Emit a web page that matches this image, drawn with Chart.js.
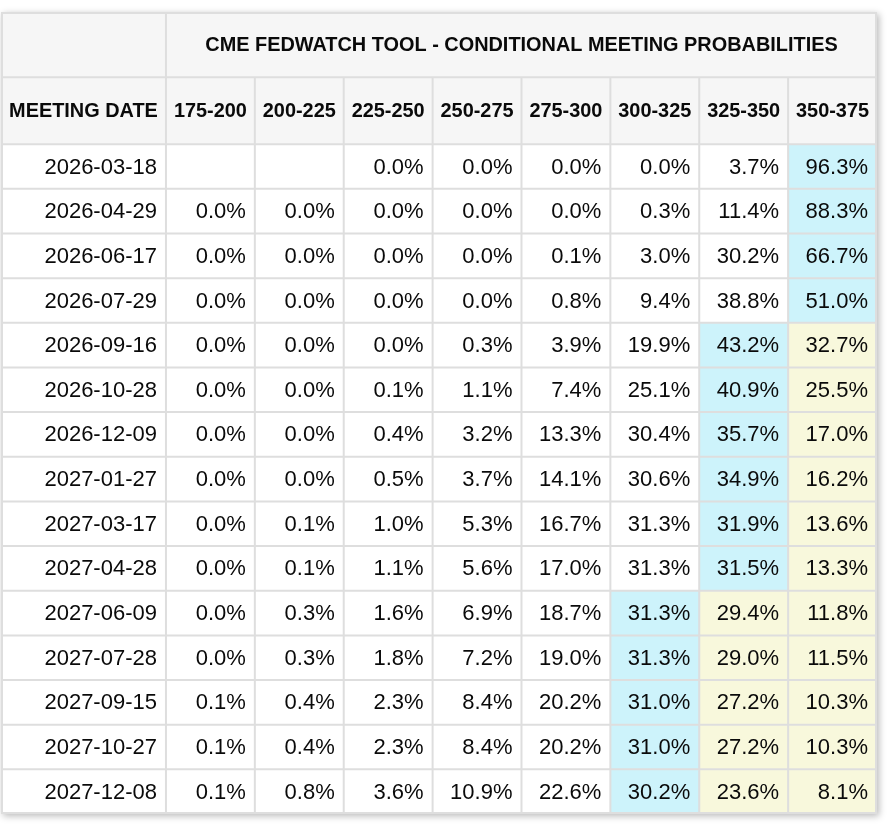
<!DOCTYPE html>
<html lang="en">
<head>
  <meta charset="UTF-8" />
  <title>CME FedWatch Tool - Conditional Meeting Probabilities</title>
  <script src="https://cdn.jsdelivr.net/npm/chart.js"></script>
  <style>
    body { margin: 0; background: #ffffff; }
    #wrap { width: 890px; height: 826px; }
  </style>
</head>
<body>
  <div id="wrap"><canvas id="fedChart" width="890" height="826"></canvas></div>

  <script>
    const title = 'CME FEDWATCH TOOL - CONDITIONAL MEETING PROBABILITIES';
    const dateHeader = 'MEETING DATE';
    const buckets = ['175-200', '200-225', '225-250', '250-275', '275-300', '300-325', '325-350', '350-375'];
    const meetingDates = [
      '2026-03-18', '2026-04-29', '2026-06-17', '2026-07-29', '2026-09-16',
      '2026-10-28', '2026-12-09', '2027-01-27', '2027-03-17', '2027-04-28',
      '2027-06-09', '2027-07-28', '2027-09-15', '2027-10-27', '2027-12-08'
    ];

    // probability (%) per rate bucket, one value per meeting date
    const p175_200 = [null, 0.0, 0.0, 0.0, 0.0, 0.0, 0.0, 0.0, 0.0, 0.0, 0.0, 0.0, 0.1, 0.1, 0.1];
    const p200_225 = [null, 0.0, 0.0, 0.0, 0.0, 0.0, 0.0, 0.0, 0.1, 0.1, 0.3, 0.3, 0.4, 0.4, 0.8];
    const p225_250 = [0.0, 0.0, 0.0, 0.0, 0.0, 0.1, 0.4, 0.5, 1.0, 1.1, 1.6, 1.8, 2.3, 2.3, 3.6];
    const p250_275 = [0.0, 0.0, 0.0, 0.0, 0.3, 1.1, 3.2, 3.7, 5.3, 5.6, 6.9, 7.2, 8.4, 8.4, 10.9];
    const p275_300 = [0.0, 0.0, 0.1, 0.8, 3.9, 7.4, 13.3, 14.1, 16.7, 17.0, 18.7, 19.0, 20.2, 20.2, 22.6];
    const p300_325 = [0.0, 0.3, 3.0, 9.4, 19.9, 25.1, 30.4, 30.6, 31.3, 31.3, 31.3, 31.3, 31.0, 31.0, 30.2];
    const p325_350 = [3.7, 11.4, 30.2, 38.8, 43.2, 40.9, 35.7, 34.9, 31.9, 31.5, 29.4, 29.0, 27.2, 27.2, 23.6];
    const p350_375 = [96.3, 88.3, 66.7, 51.0, 32.7, 25.5, 17.0, 16.2, 13.6, 13.3, 11.8, 11.5, 10.3, 10.3, 8.1];

    const series = [p175_200, p200_225, p225_250, p250_275, p275_300, p300_325, p325_350, p350_375];

    // layout in axis units: one bucket column = 1 on x, one meeting row = 1 on y
    const DATE_COL = 1.856;
    const HEAD1 = 1.46;
    const HEAD2 = 1.5;
    const X_MAX = DATE_COL + buckets.length;
    const Y_MAX = HEAD1 + HEAD2 + meetingDates.length;

    const FONT = '"Liberation Sans", Arial, Helvetica, sans-serif';
    const GRID = '#dedede';
    const HEAD_BG = '#f6f6f6';
    const MAX_BG = '#cdf3fb';
    const ABOVE_BG = '#f8f8dc';

    function cellColor(row, col) {
      let best = 0;
      series.forEach((s, c) => { if (s[row] !== null && s[row] > series[best][row]) best = c; });
      if (col === best) return MAX_BG;
      if (col > best) return ABOVE_BG;
      return '#ffffff';
    }

    const tablePlugin = {
      id: 'tablePlugin',
      afterDraw(chart) {
        const ctx = chart.ctx;
        const xs = chart.scales.x, ys = chart.scales.y;
        const px = v => xs.getPixelForValue(v);
        const py = v => ys.getPixelForValue(v);
        const L = px(0), R = px(X_MAX), T = py(0), B = py(Y_MAX);
        const rowTop = i => HEAD1 + HEAD2 + i;
        const colLeft = c => DATE_COL + c;

        ctx.save();
        // table body with soft shadow
        ctx.shadowColor = 'rgba(0,0,0,0.28)';
        ctx.shadowBlur = 7;
        ctx.shadowOffsetX = 2;
        ctx.shadowOffsetY = 2;
        ctx.fillStyle = '#ffffff';
        ctx.fillRect(L, T, R - L, B - T);
        ctx.restore();

        ctx.save();
        // header backgrounds
        ctx.fillStyle = HEAD_BG;
        ctx.fillRect(L, T, R - L, py(HEAD1 + HEAD2) - T);

        // data cell backgrounds
        meetingDates.forEach((d, i) => {
          series.forEach((s, c) => {
            ctx.fillStyle = cellColor(i, c);
            ctx.fillRect(px(colLeft(c)), py(rowTop(i)), px(colLeft(c + 1)) - px(colLeft(c)), py(rowTop(i + 1)) - py(rowTop(i)));
          });
        });

        // grid lines
        ctx.strokeStyle = GRID;
        ctx.lineWidth = 2;
        ctx.beginPath();
        const hLines = [HEAD1, HEAD1 + HEAD2];
        meetingDates.forEach((d, i) => { if (i > 0) hLines.push(rowTop(i)); });
        hLines.forEach(v => { ctx.moveTo(L, py(v)); ctx.lineTo(R, py(v)); });
        ctx.moveTo(px(DATE_COL), T); ctx.lineTo(px(DATE_COL), B);
        for (let c = 1; c < buckets.length; c++) {
          ctx.moveTo(px(colLeft(c)), py(HEAD1)); ctx.lineTo(px(colLeft(c)), B);
        }
        ctx.stroke();
        ctx.strokeRect(L + 1, T + 1, R - L - 2, B - T - 2);

        // header text
        ctx.fillStyle = '#0a0a0a';
        ctx.textBaseline = 'middle';
        ctx.textAlign = 'center';
        ctx.font = 'bold 19.9px ' + FONT;
        ctx.fillText(title, (px(DATE_COL) + R) / 2, py(HEAD1 / 2) + 1);
        const h2 = py(HEAD1 + HEAD2 / 2) + 1;
        ctx.fillText(dateHeader, (L + px(DATE_COL)) / 2, h2);
        buckets.forEach((b, c) => {
          ctx.fillText(b, (px(colLeft(c)) + px(colLeft(c + 1))) / 2, h2);
        });

        // body text
        ctx.font = '22px ' + FONT;
        ctx.textAlign = 'right';
        meetingDates.forEach((d, i) => {
          const yMid = py(rowTop(i) + 0.5) + 1;
          ctx.fillText(d, px(DATE_COL) - 9, yMid);
          series.forEach((s, c) => {
            if (s[i] === null) return;
            ctx.fillText(s[i].toFixed(1) + '%', px(colLeft(c + 1)) - 9, yMid);
          });
        });
        ctx.restore();
      }
    };

    new Chart(document.getElementById('fedChart').getContext('2d'), {
      type: 'scatter',
      data: { datasets: [] },
      options: {
        responsive: false,
        animation: false,
        layout: { padding: { left: 1, right: 13, top: 12, bottom: 12 } },
        plugins: { legend: { display: false }, tooltip: { enabled: false } },
        scales: {
          x: { type: 'linear', min: 0, max: X_MAX, display: false },
          y: { type: 'linear', min: 0, max: Y_MAX, reverse: true, display: false }
        }
      },
      plugins: [tablePlugin]
    });
  </script>
</body>
</html>
